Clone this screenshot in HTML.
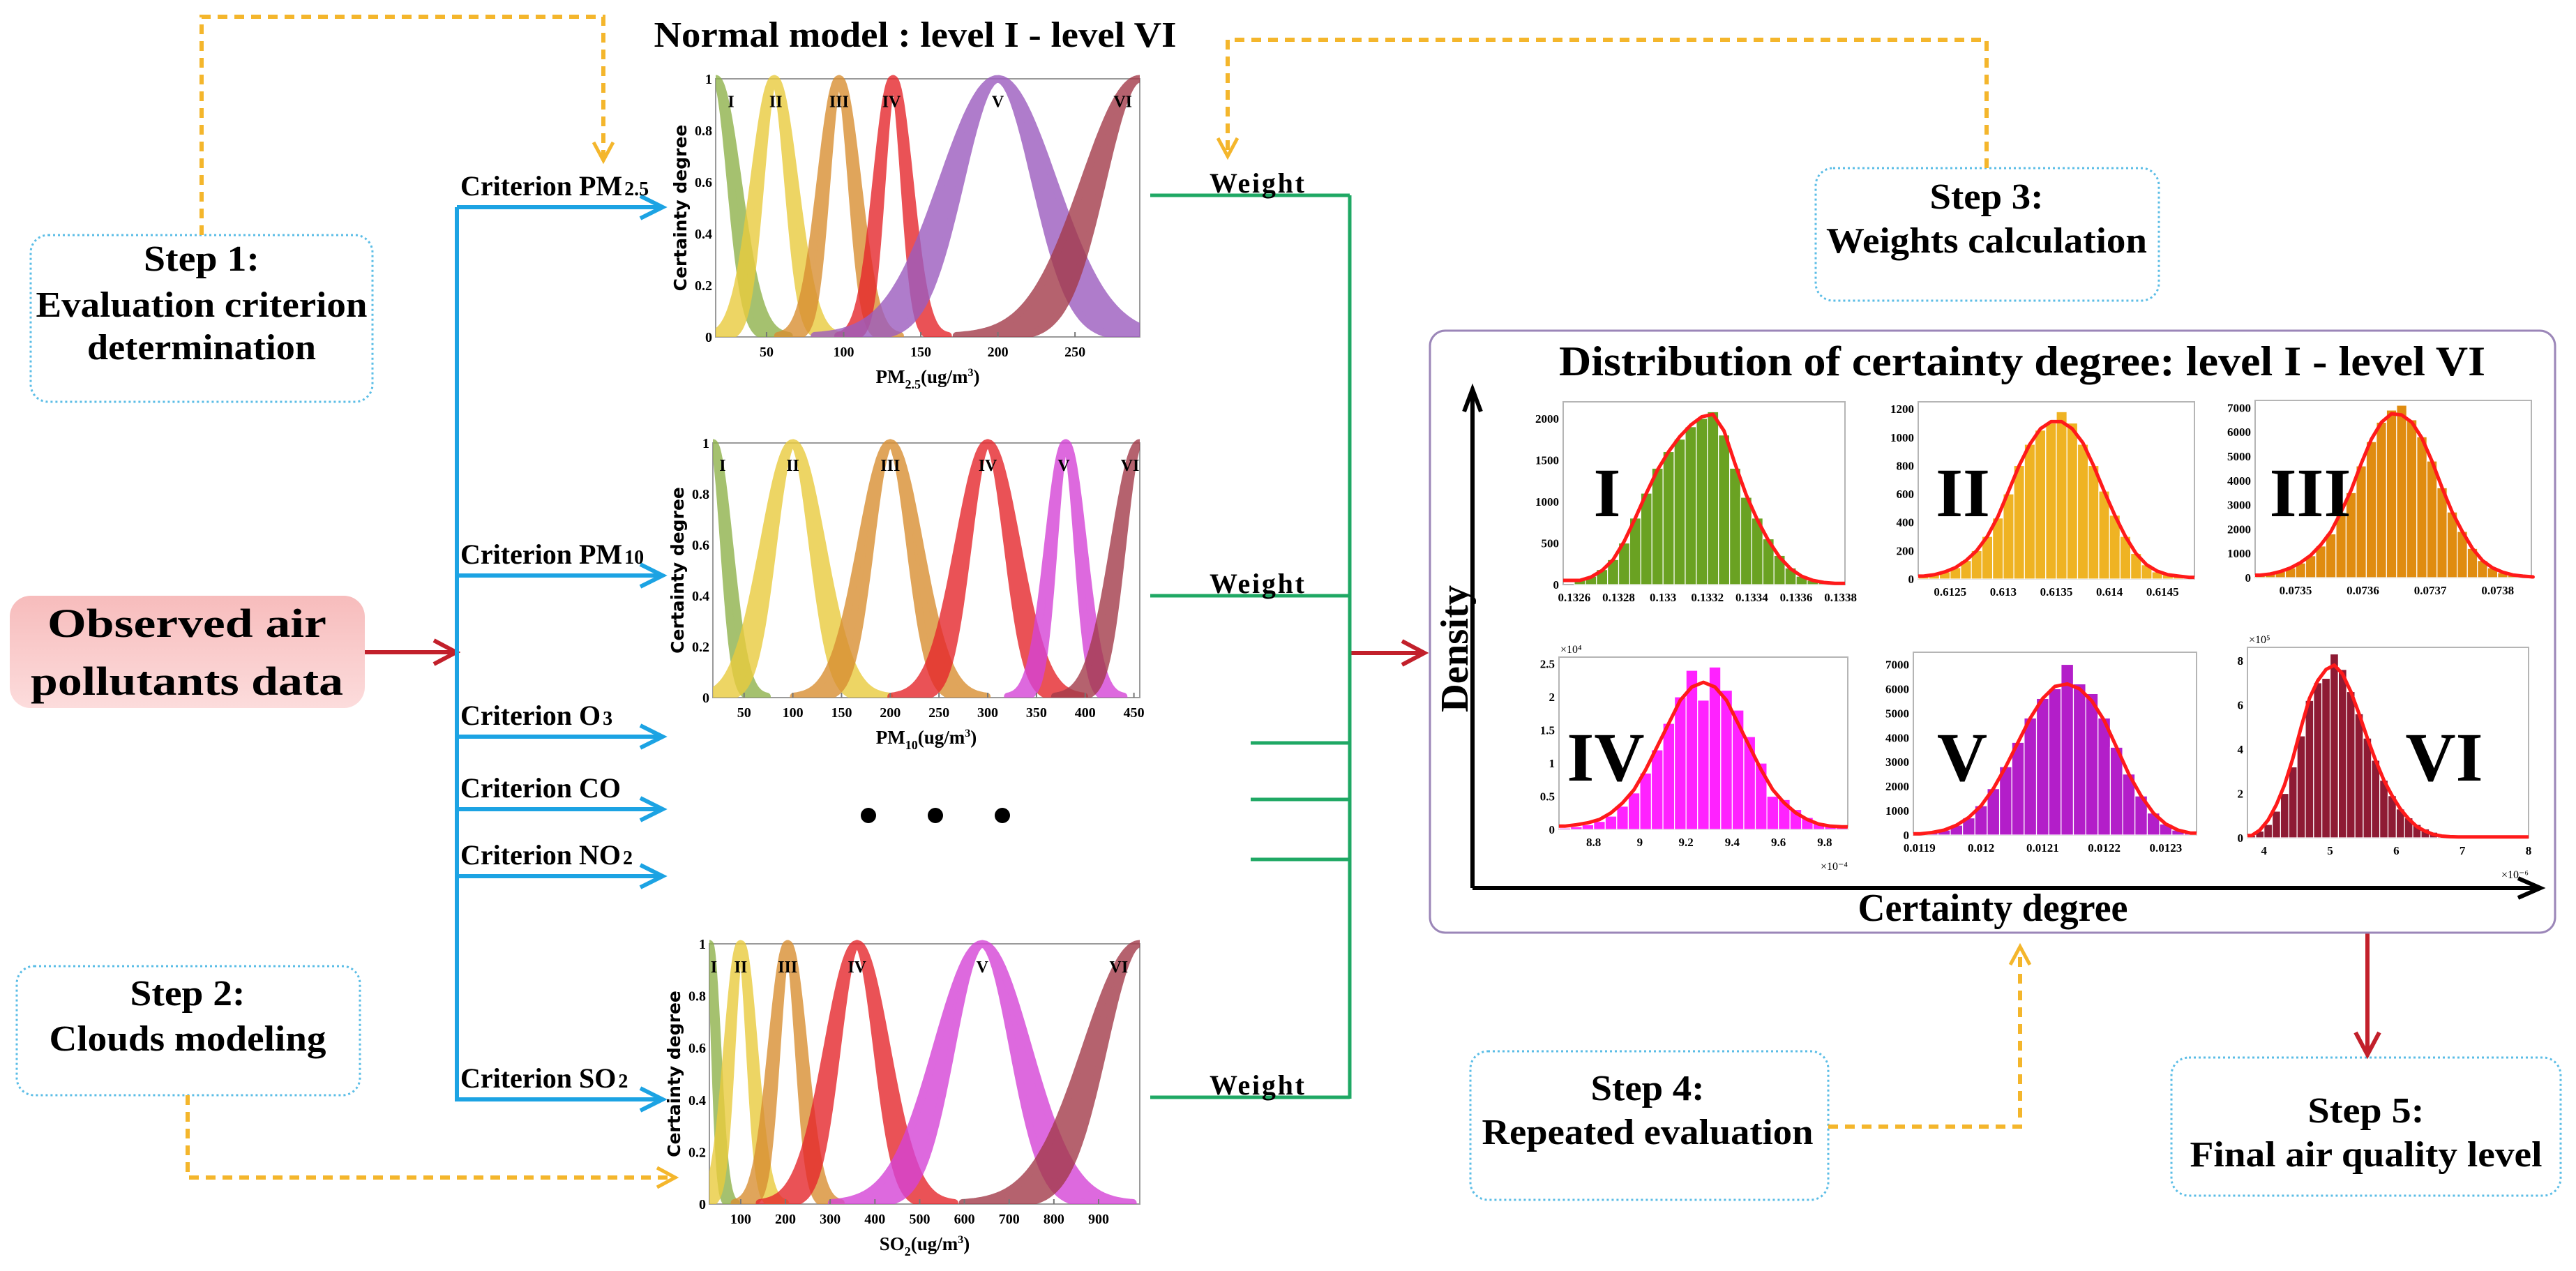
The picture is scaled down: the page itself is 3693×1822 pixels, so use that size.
<!DOCTYPE html>
<html><head><meta charset="utf-8"><title>Cloud model air quality evaluation framework</title>
<style>
html,body{margin:0;padding:0;background:#fff;}
svg{display:block;font-family:"Liberation Serif",serif;font-weight:bold;}
</style></head>
<body>
<svg id="chart" width="3693" height="1822" viewBox="0 0 3693 1822" xmlns="http://www.w3.org/2000/svg">
<defs>
<linearGradient id="pinkg" x1="0" y1="0" x2="0" y2="1"><stop offset="0" stop-color="#f7bcbc"/><stop offset="1" stop-color="#fcdcdc"/></linearGradient>
</defs>
<rect x="0" y="0" width="3693" height="1822" fill="#fff"/>

<rect x="14" y="854" width="509" height="161" rx="30" fill="url(#pinkg)"/>
<text x="268" y="913" font-size="58" text-anchor="middle" textLength="400" lengthAdjust="spacingAndGlyphs">Observed air</text>
<text x="268" y="996" font-size="58" text-anchor="middle" textLength="448" lengthAdjust="spacingAndGlyphs">pollutants data</text>

<rect x="44" y="337" width="490" height="239" rx="25" fill="#fff" stroke="#5bbde6" stroke-width="3" stroke-dasharray="3 4"/>
<text x="289" y="388" font-size="52" text-anchor="middle" textLength="166" lengthAdjust="spacingAndGlyphs">Step 1:</text>
<text x="289" y="454" font-size="52" text-anchor="middle" textLength="475" lengthAdjust="spacingAndGlyphs">Evaluation criterion</text>
<text x="289" y="515" font-size="52" text-anchor="middle" textLength="328" lengthAdjust="spacingAndGlyphs">determination</text>

<rect x="24" y="1385" width="492" height="185" rx="25" fill="#fff" stroke="#5bbde6" stroke-width="3" stroke-dasharray="3 4"/>
<text x="269" y="1441" font-size="52" text-anchor="middle" textLength="165" lengthAdjust="spacingAndGlyphs">Step 2:</text>
<text x="269" y="1506" font-size="52" text-anchor="middle" textLength="397" lengthAdjust="spacingAndGlyphs">Clouds modeling</text>

<rect x="2603" y="241" width="492" height="190" rx="25" fill="#fff" stroke="#5bbde6" stroke-width="3" stroke-dasharray="3 4"/>
<text x="2848" y="299" font-size="52" text-anchor="middle" textLength="163" lengthAdjust="spacingAndGlyphs">Step 3:</text>
<text x="2848" y="362" font-size="52" text-anchor="middle" textLength="460" lengthAdjust="spacingAndGlyphs">Weights calculation</text>

<rect x="2108" y="1507" width="513" height="213" rx="25" fill="#fff" stroke="#5bbde6" stroke-width="3" stroke-dasharray="3 4"/>
<text x="2362" y="1577" font-size="52" text-anchor="middle" textLength="163" lengthAdjust="spacingAndGlyphs">Step 4:</text>
<text x="2362" y="1640" font-size="52" text-anchor="middle" textLength="475" lengthAdjust="spacingAndGlyphs">Repeated evaluation</text>

<rect x="3113" y="1516" width="558" height="198" rx="25" fill="#fff" stroke="#5bbde6" stroke-width="3" stroke-dasharray="3 4"/>
<text x="3392" y="1609" font-size="52" text-anchor="middle" textLength="167" lengthAdjust="spacingAndGlyphs">Step 5:</text>
<text x="3392" y="1672" font-size="52" text-anchor="middle" textLength="505" lengthAdjust="spacingAndGlyphs">Final air quality level</text>

<g fill="none" stroke="#f4b62c" stroke-width="6" stroke-dasharray="14 10">
<polyline points="289,337 289,24 865,24 865,228"/>
<polyline points="2848,241 2848,57 1760,57 1760,222"/>
<polyline points="269,1570 269,1688 965,1688"/>
<polyline points="2621,1615 2896,1615 2896,1359"/>
</g>
<g fill="none" stroke="#f4b62c" stroke-width="5">
<polyline points="851,204 865,230 879,204"/>
<polyline points="1746,198 1760,224 1774,198"/>
<polyline points="942,1674 968,1688 942,1702"/>
<polyline points="2882,1383 2896,1357 2910,1383"/>
</g>

<g stroke="#c2202b" stroke-width="6" fill="none">
<line x1="523" y1="935" x2="652" y2="935"/>
<polyline points="622,918 654,935 622,952"/>
<line x1="1935" y1="936" x2="2040" y2="936"/>
<polyline points="2010,919 2042,936 2010,953"/>
<line x1="3394" y1="1337" x2="3394" y2="1510"/>
<polyline points="3377,1480 3394,1512 3411,1480"/>
</g>

<g id="blue" stroke="#1ca3e3" stroke-width="6" fill="none">
<line x1="655" y1="297" x2="655" y2="1579"/>
</g>

<g id="green" stroke="#1fa864" stroke-width="5" fill="none">
<line x1="1935" y1="280" x2="1935" y2="1575"/>
</g>

<text x="1312" y="67" font-size="52" text-anchor="middle" textLength="749" lengthAdjust="spacingAndGlyphs">Normal model : level I - level VI</text>

<g fill="#000">
<circle cx="1245" cy="1169" r="11"/>
<circle cx="1341" cy="1169" r="11"/>
<circle cx="1437" cy="1169" r="11"/>
</g>

<rect x="2050" y="474" width="1613" height="863" rx="22" fill="#fff" stroke="#9b86b8" stroke-width="3"/>
<text x="2899" y="538" font-size="60" text-anchor="middle" textLength="1328" lengthAdjust="spacingAndGlyphs">Distribution of certainty degree: level I - level VI</text>
<g stroke="#000" stroke-width="6" fill="none">
<line x1="2111" y1="560" x2="2111" y2="1273"/>
<polyline points="2099,590 2111,558 2123,590"/>
<line x1="2111" y1="1273" x2="3640" y2="1273"/>
<polyline points="3610,1259 3642,1273 3610,1287"/>
</g>
<text x="2857" y="1320" font-size="56" text-anchor="middle" textLength="387" lengthAdjust="spacingAndGlyphs">Certainty degree</text>
<text transform="translate(2104,930) rotate(-90)" x="0" y="0" font-size="56" text-anchor="middle" textLength="182" lengthAdjust="spacingAndGlyphs">Density</text>
</svg>

<script>
const pm25Domain=[17,292];
const pm25Ex=[17,55,97,132,200,292];
const pm25En=[12,11,10,9,30,30];
const pm25LabelX=[27,56,97,131,200,281];
const pm25Ticks=[50,100,150,200,250];

const pm10Domain=[18,456];
const pm10Ex=[18,100,200,300,380,456];
const pm10En=[14,25,25,25,15,22];
const pm10LabelX=[28,100,200,300,378,446];
const pm10Ticks=[50,100,150,200,250,300,350,400,450];

const so2Domain=[30,992];
const so2Ex=[30,100,205,360,640,992];
const so2En=[15,25,30,55,85,100];
const so2LabelX=[40,100,205,360,640,945];
const so2Ticks=[100,200,300,400,500,600,700,800,900];

const cloudHe=[0.2,0.2,0.2,0.2,0.2,0.2];
const certaintyTicks=[0,0.2,0.4,0.6,0.8,1];
const certaintyTickLabels=['0','0.2','0.4','0.6','0.8','1'];
const levelNames=['I','II','III','IV','V','VI'];

const h1Counts=[60,100,180,300,500,800,1100,1400,1600,1750,1900,2000,2080,1800,1400,1050,800,550,350,200,100,50,20,10];
const h1Fit=[50,90,170,300,520,800,1100,1380,1600,1780,1920,2020,2050,1850,1450,1080,780,530,330,190,100,50,25,15];
const h1XTicks=[0.1326,0.1328,0.133,0.1332,0.1334,0.1336,0.1338];
const h1XLabels=['0.1326','0.1328','0.133','0.1332','0.1334','0.1336','0.1338'];
const h1YTicks=[0,500,1000,1500,2000];

const h2Counts=[20,30,50,80,130,200,300,430,600,800,950,1050,1100,1180,1100,950,800,620,450,300,180,100,50,30,20,10];
const h2Fit=[20,30,50,80,130,200,300,440,620,800,950,1060,1110,1110,1060,960,800,620,450,300,180,100,55,30,20,12];
const h2XTicks=[0.6125,0.613,0.6135,0.614,0.6145];
const h2XLabels=['0.6125','0.613','0.6135','0.614','0.6145'];
const h2YTicks=[0,200,400,600,800,1000,1200];

const h3Counts=[100,150,250,400,600,900,1300,1800,2600,3500,4600,5600,6400,6900,7100,6500,5800,4800,3700,2700,1900,1200,700,400,200,100,60,30];
const h3Fit=[100,150,250,400,620,920,1350,1900,2700,3600,4700,5700,6400,6750,6700,6400,5750,4800,3700,2700,1900,1200,700,400,220,110,60,30];
const h3XTicks=[0.0735,0.0736,0.0737,0.0738];
const h3XLabels=['0.0735','0.0736','0.0737','0.0738'];
const h3YTicks=[0,1000,2000,3000,4000,5000,6000,7000];

const h4Counts=[0.02,0.04,0.07,0.12,0.2,0.35,0.55,0.85,1.2,1.6,2.0,2.4,1.95,2.45,2.1,1.8,1.4,1.0,0.5,0.45,0.3,0.18,0.1,0.05,0.03];
const h4Fit=[0.05,0.07,0.1,0.15,0.25,0.4,0.6,0.9,1.25,1.6,1.95,2.15,2.22,2.15,1.95,1.6,1.25,0.9,0.6,0.4,0.25,0.15,0.08,0.05,0.04];
const h4XTicks=[8.8,9,9.2,9.4,9.6,9.8];
const h4XLabels=['8.8','9','9.2','9.4','9.6','9.8'];
const h4YTicks=[0,0.5,1,1.5,2,2.5];

const h5Counts=[50,100,200,400,700,1200,1900,2800,3800,4800,5600,6000,7000,6200,5800,4800,3600,2500,1600,900,450,200,80];
const h5Fit=[50,100,200,400,720,1200,1900,2800,3800,4800,5600,6100,6200,6000,5500,4700,3600,2500,1600,900,450,200,80];
const h5XTicks=[0.0119,0.012,0.0121,0.0122,0.0123];
const h5XLabels=['0.0119','0.012','0.0121','0.0122','0.0123'];
const h5YTicks=[0,1000,2000,3000,4000,5000,6000,7000];

const h6Counts=[0.1,0.3,0.6,1.2,2.0,3.2,4.6,6.2,7.0,7.2,8.3,7.6,6.6,5.6,4.5,3.5,2.6,1.9,1.3,0.9,0.6,0.4,0.25,0.15,0.08,0.05];
const h6Fit=[0.1,0.35,0.8,1.5,2.4,3.6,5.0,6.3,7.1,7.6,7.8,7.4,6.6,5.6,4.5,3.5,2.6,1.9,1.3,0.85,0.5,0.3,0.15,0.08,0.05,0.04];
const h6XTicks=[4,5,6,7,8];
const h6XLabels=['4','5','6','7','8'];
const h6YTicks=[0,2,4,6,8];

const NS='http://www.w3.org/2000/svg';
const svg=document.getElementById('chart');
function mk(tag,attrs,parent){
  const e=document.createElementNS(NS,tag);
  for(const k in attrs) e.setAttribute(k,attrs[k]);
  (parent||svg).appendChild(e);
  return e;
}
function txt(str,x,y,size,anchor,parent,weight){
  const e=mk('text',{x:x,y:y,'font-size':size,'text-anchor':anchor||'start','font-weight':weight||'bold'},parent);
  e.textContent=str;
  return e;
}

const critY=[297,825,1056,1160,1256,1576];
const critMain=['Criterion PM','Criterion PM','Criterion O','Criterion CO','Criterion NO','Criterion SO'];
const critSub=['2.5','10','3','','2','2'];
const blue=document.getElementById('blue');
critY.forEach((y,i)=>{
  const l=mk('line',{x1:655,y1:y,x2:947,y2:y},blue);
  
  
  const h=mk('polyline',{points:(918)+','+(y-16)+' 950,'+y+' '+(918)+','+(y+16)},blue);
  
  
  const t=txt('',660,y-17,40,'start');
  
  
  const a=document.createElementNS(NS,'tspan'); a.textContent=critMain[i]; t.appendChild(a);
  if(critSub[i]){const b=document.createElementNS(NS,'tspan'); b.setAttribute('font-size','28'); b.setAttribute('dx','3'); b.textContent=critSub[i]; t.appendChild(b);}
});

const green=document.getElementById('green');
const wY=[280,854,1573], shortY=[1065,1146,1232];
wY.forEach((y,i)=>{
  const l=mk('line',{x1:1649,y1:y,x2:1935,y2:y},green);
  
  
  const t=txt('Weight',1734,y-4,40,'start');
  t.setAttribute('textLength','136');
  
  
});
shortY.forEach((y,i)=>{
  const l=mk('line',{x1:1793,y1:y,x2:1935,y2:y},green);
  
  
});

function scatterPanel(id,P,dom,Ex,En,labX,ticks,colors,xMain,xSub){
  const g=mk('g',{});
  
  
  const sx=v=>P.x0+(v-dom[0])/(dom[1]-dom[0])*(P.x1-P.x0);
  const sy=v=>P.y1-v*(P.y1-P.y0);
  const cp=mk('clipPath',{id:id+'clip'},g);
  mk('rect',{x:P.x0,y:P.y0-6,width:P.x1-P.x0,height:P.y1-P.y0+6},cp);
  const fr=mk('rect',{x:P.x0,y:P.y0,width:P.x1-P.x0,height:P.y1-P.y0,fill:'#fff',stroke:'#9a9a9a','stroke-width':2},g);
  
  
  const marks=mk('g',{'clip-path':'url(#'+id+'clip)'},g);
  Ex.forEach((m,i)=>{
    const lo=En[i]*(1-cloudHe[i]), hi=En[i]*(1+cloudHe[i]);
    const a=Math.max(dom[0],m-3.3*hi), b=Math.min(dom[1],m+3.3*hi);
    const N=90, up=[], dn=[];
    for(let k=0;k<=N;k++){
      const x=a+(b-a)*k/N, d=x-m;
      up.push(sx(x).toFixed(1)+','+sy(Math.exp(-d*d/(2*hi*hi))).toFixed(1));
      dn.push(sx(x).toFixed(1)+','+sy(Math.exp(-d*d/(2*lo*lo))).toFixed(1));
    }
    const pts=up.concat(dn.reverse()).join(' ');
    const p=mk('polygon',{points:pts,fill:colors[i],stroke:colors[i],'stroke-width':11,'stroke-linejoin':'round',opacity:0.8},marks);
    
    
    const t=txt(levelNames[i],sx(labX[i]),sy(0.89),24,'middle',g);
    
    
  });
  ticks.forEach((v,i)=>{
    const t=txt(String(v),sx(v),P.y1+28,20,'middle',g);
    
    
    const tk=mk('line',{x1:sx(v),y1:P.y1,x2:sx(v),y2:P.y1-7,stroke:'#777','stroke-width':2},g);
    
    
  });
  certaintyTicks.forEach((v,i)=>{
    const t=txt(certaintyTickLabels[i],P.x0-5,sy(v)+7,20,'end',g);
    
    
  });
  const yl=txt('Certainty degree',0,0,25,'middle',g);
  yl.setAttribute('transform','translate('+(P.x0-42)+','+((P.y0+P.y1)/2)+') rotate(-90)');
  yl.setAttribute('font-family','"DejaVu Sans",sans-serif');
  
  
  const xl=txt('',(P.x0+P.x1)/2,P.y1+66,27,'middle',g);
  
  
  const s1=document.createElementNS(NS,'tspan'); s1.textContent=xMain; xl.appendChild(s1);
  const s2=document.createElementNS(NS,'tspan'); s2.setAttribute('font-size','18'); s2.setAttribute('dy','8'); s2.textContent=xSub; xl.appendChild(s2);
  const s3=document.createElementNS(NS,'tspan'); s3.setAttribute('dy','-8'); s3.textContent='(ug/m'; xl.appendChild(s3);
  const s4=document.createElementNS(NS,'tspan'); s4.setAttribute('font-size','16'); s4.setAttribute('dy','-10'); s4.textContent='3'; xl.appendChild(s4);
  const s5=document.createElementNS(NS,'tspan'); s5.setAttribute('dy','10'); s5.textContent=')'; xl.appendChild(s5);
}
const colA=['#8fb24c','#e9cb3e','#d98f33','#e6282c','#9c5cbf','#a33b4a'];
const colB=['#8fb24c','#e9cb3e','#d98f33','#e6282c','#d544d6','#a33b4a'];
scatterPanel('pm25',{x0:1026,x1:1634,y0:113,y1:483},pm25Domain,pm25Ex,pm25En,pm25LabelX,pm25Ticks,colA,'PM','2.5');
scatterPanel('pm10',{x0:1022,x1:1634,y0:635,y1:1000},pm10Domain,pm10Ex,pm10En,pm10LabelX,pm10Ticks,colB,'PM','10');
scatterPanel('so2',{x0:1017,x1:1634,y0:1353,y1:1726},so2Domain,so2Ex,so2En,so2LabelX,so2Ticks,colB,'SO','2');

function histPanel(id,P,xr,yr,bx0,bw,counts,fit,xt,xl,yt,color,roman,rx,ry,expY,expX){
  const g=mk('g',{});
  
  
  const sx=v=>P.x0+(v-xr[0])/(xr[1]-xr[0])*(P.x1-P.x0);
  const sy=v=>P.y1-(v-yr[0])/(yr[1]-yr[0])*(P.y1-P.y0);
  const fr=mk('rect',{x:P.x0,y:P.y0,width:P.x1-P.x0,height:P.y1-P.y0,fill:'#fff',stroke:'#b5b5b5','stroke-width':2},g);
  
  
  counts.forEach((c,i)=>{
    const x1=sx(bx0+i*bw), x2=sx(bx0+(i+1)*bw);
    const r=mk('rect',{x:x1,y:sy(c),width:x2-x1,height:P.y1-sy(c),fill:color,stroke:'#fff','stroke-width':1.2},g);
    
    
  });
  const pts=[sx(xr[0]).toFixed(1)+','+sy(fit[0]).toFixed(1)];
  fit.forEach((v,i)=>pts.push(sx(bx0+(i+0.5)*bw).toFixed(1)+','+sy(v).toFixed(1)));
  pts.push(sx(xr[1]).toFixed(1)+','+sy(fit[fit.length-1]).toFixed(1));
  const pl=mk('polyline',{points:pts.join(' '),fill:'none',stroke:'#ff1a1a','stroke-width':5,'stroke-linejoin':'round'},g);
  
  
  xt.forEach((v,i)=>{
    const t=txt(xl[i],sx(v),P.y1+24,17,'middle',g);
    
    
  });
  yt.forEach((v)=>{
    const t=txt(String(v),P.x0-6,sy(v)+6,17,'end',g);
    
    
  });
  const R=txt(roman,rx,ry,100,'middle',g);
  
  
  if(expY){const e=txt(expY,P.x0+2,P.y0-6,16,'start',g,'normal');
    
    }
  if(expX){const e=txt(expX,P.x1,P.y1+58,16,'end',g,'normal');
    
    }
}
histPanel('hist-I',{x0:2241,x1:2645,y0:576,y1:838},[0.13255,0.13382],[0,2200],0.1326,0.00005,h1Counts,h1Fit,h1XTicks,h1XLabels,h1YTicks,'#6aa222','I',2304,740);
histPanel('hist-II',{x0:2750,x1:3146,y0:576,y1:830},[0.6122,0.6148],[0,1250],0.6122,0.0001,h2Counts,h2Fit,h2XTicks,h2XLabels,h2YTicks,'#efb323','II',2814,740);
histPanel('hist-III',{x0:3233,x1:3629,y0:574,y1:828},[0.07344,0.07385],[0,7300],0.07344,0.000015,h3Counts,h3Fit,h3XTicks,h3XLabels,h3YTicks,'#e08c10','III',3312,740);
histPanel('hist-IV',{x0:2235,x1:2649,y0:942,y1:1189},[8.65,9.9],[0,2.6],8.65,0.05,h4Counts,h4Fit,h4XTicks,h4XLabels,h4YTicks,'#ff22ff','IV',2302,1119,'×10⁴','×10⁻⁴');
histPanel('hist-V',{x0:2743,x1:3149,y0:935,y1:1197},[0.01189,0.01235],[0,7500],0.01189,0.00002,h5Counts,h5Fit,h5XTicks,h5XLabels,h5YTicks,'#b31ec9','V',2813,1119);
histPanel('hist-VI',{x0:3222,x1:3625,y0:928,y1:1201},[3.75,8],[0,8.6],3.75,0.125,h6Counts,h6Fit,h6XTicks,h6XLabels,h6YTicks,'#8e1b34','VI',3504,1119,'×10⁵','×10⁻⁶');
</script>
</body></html>
